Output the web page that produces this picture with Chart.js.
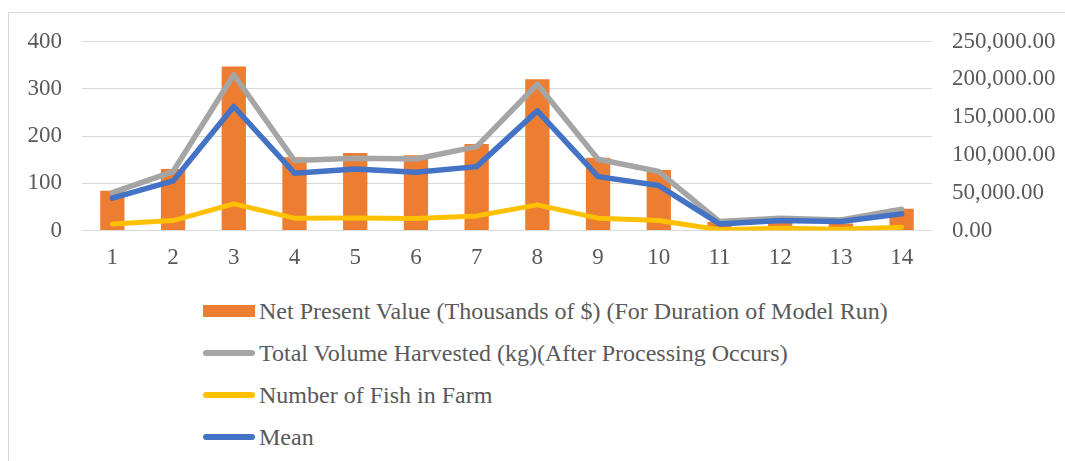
<!DOCTYPE html>
<html>
<head>
<meta charset="utf-8">
<title>Model runs</title>
<script src="https://cdn.jsdelivr.net/npm/chart.js@4.4.0/dist/chart.umd.min.js"></script>
<style>
  html, body { margin: 0; padding: 0; background: #fff; width: 1065px; height: 461px; overflow: hidden; }
  #frame { position: absolute; left: 8px; top: 12px; width: 1100px; height: 500px; border: 1px solid #d9d9d9; box-sizing: border-box; }
  #c { position: absolute; left: 0; top: 0; }
  #legend { position: absolute; left: 0; top: 0; font-family: "Liberation Serif", "Times New Roman", serif; font-size: 24px; color: #595959; }
  .row { position: absolute; left: 203px; height: 42px; line-height: 42px; white-space: nowrap; }
  .sym { position: absolute; left: 0; width: 52px; }
  .txt { position: absolute; left: 56px; top: 0; }
</style>
</head>
<body>
<div id="frame"></div>
<canvas id="c" width="1065" height="276"></canvas>
<div id="legend"></div>
<script>
// data
const categories = ['1','2','3','4','5','6','7','8','9','10','11','12','13','14'];
const npvThousands = [84, 130, 347, 155, 164, 159, 183, 320, 154, 128, 18, 17, 15, 46];
const volumeHarvested = [50000, 78000, 206000, 92500, 95500, 94500, 111000, 193500, 94300, 78000, 11800, 16300, 14000, 28000];
const fishInFarm = [8700, 13100, 35200, 16300, 16500, 16000, 19300, 33900, 16300, 13100, 1000, 3000, 1700, 4400];
const meanValues = [42700, 65600, 164000, 75800, 81500, 77100, 84500, 158200, 71300, 59400, 8700, 13100, 11800, 22000];

const leftTicks = [0, 100, 200, 300, 400];
const rightTicks = [0, 50000, 100000, 150000, 200000, 250000];

const seriesLabels = [
  'Net Present Value (Thousands of $) (For Duration of Model Run)',
  'Total Volume Harvested (kg)(After Processing Occurs)',
  'Number of Fish in Farm',
  'Mean'
];
const seriesColors = ['#ED7D31', '#A5A5A5', '#FFC000', '#4472C4'];

const FONT = { family: '"Liberation Serif", "Times New Roman", serif', size: 23 };
const TXT = '#595959';

const fmt = v => v.toLocaleString('en-US', { minimumFractionDigits: 2, maximumFractionDigits: 2 });

function lineSet(label, data, color, w, order) {
  return { type: 'line', label, data, yAxisID: 'y1', borderColor: color, backgroundColor: color,
    borderWidth: w, pointRadius: 0, tension: 0, borderCapStyle: 'round', borderJoinStyle: 'round', order };
}

const chart = new Chart(document.getElementById('c'), {
  type: 'bar',
  data: {
    labels: categories,
    datasets: [
      { type: 'bar', label: seriesLabels[0], data: npvThousands, yAxisID: 'y', backgroundColor: seriesColors[0],
        barPercentage: 0.4, categoryPercentage: 1.0, order: 4 },
      lineSet(seriesLabels[1], volumeHarvested, seriesColors[1], 5.5, 3),
      lineSet(seriesLabels[2], fishInFarm, seriesColors[2], 5, 2),
      lineSet(seriesLabels[3], meanValues, seriesColors[3], 5.5, 1)
    ]
  },
  options: {
    responsive: false,
    animation: false,
    devicePixelRatio: 1,
    layout: { padding: { top: 41.5, left: 0, right: 0, bottom: 0 } },
    plugins: { legend: { display: false }, tooltip: { enabled: false } },
    scales: {
      x: {
        grid: { display: false, drawTicks: false },
        border: { display: false },
        ticks: { color: TXT, font: FONT, padding: 14, maxRotation: 0, autoSkip: false },
        afterFit: s => { s.height = 45.5; }
      },
      y: {
        position: 'left', min: 0, max: 400,
        grid: { color: '#d9d9d9', lineWidth: 1, drawTicks: false },
        border: { display: false },
        ticks: { color: TXT, font: FONT, padding: 20 },
        afterBuildTicks: s => { s.ticks = leftTicks.map(v => ({ value: v })); },
        afterFit: s => { s.width = 82; }
      },
      y1: {
        position: 'right', min: 0, max: 250000,
        grid: { display: false, drawTicks: false },
        border: { display: false },
        ticks: { color: TXT, font: FONT, padding: 20, callback: v => fmt(v) },
        afterBuildTicks: s => { s.ticks = rightTicks.map(v => ({ value: v })); },
        afterFit: s => { s.width = 133; }
      }
    }
  }
});

// legend, one item per row, left aligned like the original
const leg = document.getElementById('legend');
seriesLabels.forEach((lab, i) => {
  const row = document.createElement('div');
  row.className = 'row';
  row.style.top = (311 + 42 * i - 21) + 'px';
  const sym = document.createElement('div');
  sym.className = 'sym';
  sym.style.background = seriesColors[i];
  if (i === 0) { sym.style.height = '12px'; sym.style.top = '15px'; }
  else { sym.style.height = '5.5px'; sym.style.top = '18.25px'; sym.style.borderRadius = '3px'; }
  const t = document.createElement('span');
  t.className = 'txt';
  t.textContent = lab;
  row.appendChild(sym);
  row.appendChild(t);
  leg.appendChild(row);
});
</script>
</body>
</html>
